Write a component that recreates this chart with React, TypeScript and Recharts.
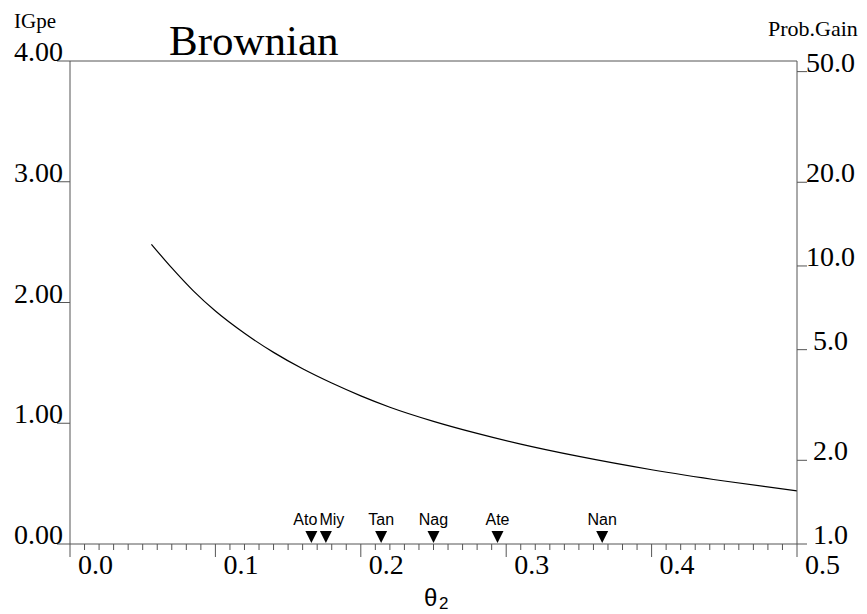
import React from 'react';
import { ComposedChart, Line, Scatter, XAxis, YAxis, ReferenceLine } from 'recharts';

// IGpe curve (theta_2 vs IGpe)
const thetaValues = [0.056, 0.07, 0.085, 0.1, 0.12, 0.14, 0.16, 0.18, 0.2, 0.22, 0.25, 0.28, 0.31, 0.35, 0.4, 0.45, 0.5];
const igpeValues = [2.482, 2.286, 2.094, 1.929, 1.745, 1.587, 1.451, 1.333, 1.227, 1.133, 1.016, 0.916, 0.827, 0.725, 0.615, 0.522, 0.44];

// station markers on the theta axis
const stationNames = ['Ato', 'Miy', 'Tan', 'Nag', 'Ate', 'Nan'];
const stationTheta = [0.166, 0.176, 0.214, 0.25, 0.294, 0.366];

// axis ticks
const xMajorTicks = [0, 0.1, 0.2, 0.3, 0.4, 0.5];
const leftTicks = [0, 1, 2, 3, 4];
const rightTickLabels = [1, 2, 5, 10, 20, 50];

const title = 'Brownian';
const leftTitle = 'IGpe';
const rightTitle = 'Prob.Gain';

const curveData = thetaValues.map((x, i) => ({ x, y: igpeValues[i] }));
const stationData = stationNames.map((name, i) => ({ name, x: stationTheta[i], y: 0, idx: i }));
const labelShift = stationTheta.map((t, i) => {
  const prev = i > 0 ? t - stationTheta[i - 1] : 1;
  const next = i < stationTheta.length - 1 ? stationTheta[i + 1] - t : 1;
  if (next < 0.015) return -6;
  if (prev < 0.015) return 6;
  return 0;
});

const xTicks: number[] = [];
xMajorTicks.forEach((m, i) => {
  xTicks.push(m);
  if (i < xMajorTicks.length - 1) {
    for (let j = 1; j < 10; j++) xTicks.push(Number((m + j * 0.01).toFixed(2)));
  }
});

const AXIS = '#555';
const SERIF = '"Liberation Serif", "Times New Roman", serif';
const SANS = '"Liberation Sans", Arial, sans-serif';

const XTick = (props: any) => {
  const { x, y, payload } = props;
  const v = payload.value as number;
  const major = Math.abs(v * 10 - Math.round(v * 10)) < 1e-6;
  return (
    <g>
      <line x1={x} x2={x} y1={y} y2={y + (major ? 13 : 6)} stroke={AXIS} strokeWidth={1} />
      {major && (
        <text x={x + 8} y={y + 30} fontFamily={SERIF} fontSize={28} fill="#000" textAnchor="start">
          {v.toFixed(1)}
        </text>
      )}
    </g>
  );
};

const LeftTick = (props: any) => {
  const { x, y, payload } = props;
  const v = payload.value as number;
  return (
    <g>
      <line x1={x - 13} x2={x} y1={y} y2={y} stroke={AXIS} strokeWidth={1} />
      <text x={x - 7} y={y} fontFamily={SERIF} fontSize={28} fill="#000" textAnchor="end">
        {v.toFixed(2)}
      </text>
    </g>
  );
};

const RightTick = (props: any) => {
  const { x, y, payload } = props;
  const g = Math.exp(payload.value as number);
  const label = g < 10 ? '\u00A0' + g.toFixed(1) : g.toFixed(1);
  return (
    <g>
      <line x1={x} x2={x + 10} y1={y} y2={y} stroke={AXIS} strokeWidth={1} />
      <text x={x + 9} y={y} fontFamily={SERIF} fontSize={28} fill="#000" textAnchor="start">
        {label}
      </text>
    </g>
  );
};

const StationShape = (props: any) => {
  const { cx, cy, payload } = props;
  const s = labelShift[payload.idx] || 0;
  return (
    <g>
      <polygon points={`${cx - 6},${cy - 13} ${cx + 6},${cy - 13} ${cx},${cy - 1}`} fill="#000" />
      <text x={cx + s} y={cy - 19} fontFamily={SANS} fontSize={16} fill="#000" textAnchor="middle">
        {payload.name}
      </text>
    </g>
  );
};

export default function App() {
  return (
    <div style={{ position: 'absolute', left: 0, top: 0, width: 867, height: 614, background: '#fff' }}>
      <ComposedChart width={867} height={614} margin={{ top: 61, right: 0, bottom: 0, left: 0 }}>
        <XAxis
          dataKey="x"
          type="number"
          domain={[0, 0.5]}
          ticks={xTicks}
          interval={0}
          height={70}
          tickLine={false}
          tickSize={0}
          tickMargin={0}
          axisLine={{ stroke: AXIS, strokeWidth: 1 }}
          tick={<XTick />}
          allowDataOverflow
        />
        <YAxis
          yAxisId="L"
          orientation="left"
          type="number"
          domain={[0, 4]}
          ticks={leftTicks}
          interval={0}
          width={70}
          tickLine={false}
          tickSize={0}
          tickMargin={0}
          axisLine={{ stroke: AXIS, strokeWidth: 1 }}
          tick={<LeftTick />}
          allowDataOverflow
        />
        <YAxis
          yAxisId="R"
          orientation="right"
          type="number"
          domain={[0, 4]}
          ticks={rightTickLabels.map((v) => Math.log(v))}
          interval={0}
          width={70}
          tickLine={false}
          tickSize={0}
          tickMargin={0}
          axisLine={{ stroke: AXIS, strokeWidth: 1 }}
          tick={<RightTick />}
          allowDataOverflow
        />
        <ReferenceLine yAxisId="L" y={4} stroke={AXIS} strokeWidth={1} />
        <Line
          yAxisId="L"
          data={curveData}
          dataKey="y"
          type="monotone"
          stroke="#000"
          strokeWidth={1.2}
          dot={false}
          isAnimationActive={false}
        />
        <Scatter
          yAxisId="L"
          data={stationData}
          dataKey="y"
          shape={<StationShape />}
          isAnimationActive={false}
        />
      </ComposedChart>
      <svg width={867} height={614} style={{ position: 'absolute', left: 0, top: 0, pointerEvents: 'none' }}>
        <text x={169} y={55} fontFamily={SERIF} fontSize={43} fill="#000">{title}</text>
        <text x={14} y={28} fontFamily={SERIF} fontSize={21} fill="#000">{leftTitle}</text>
        <text x={768} y={36} fontFamily={SERIF} fontSize={22} fill="#000">{rightTitle}</text>
        <text x={424} y={606} fontFamily={SANS} fontSize={24} fill="#000">θ</text>
        <text x={439} y={609} fontFamily={SANS} fontSize={17} fill="#000">2</text>
      </svg>
    </div>
  );
}
